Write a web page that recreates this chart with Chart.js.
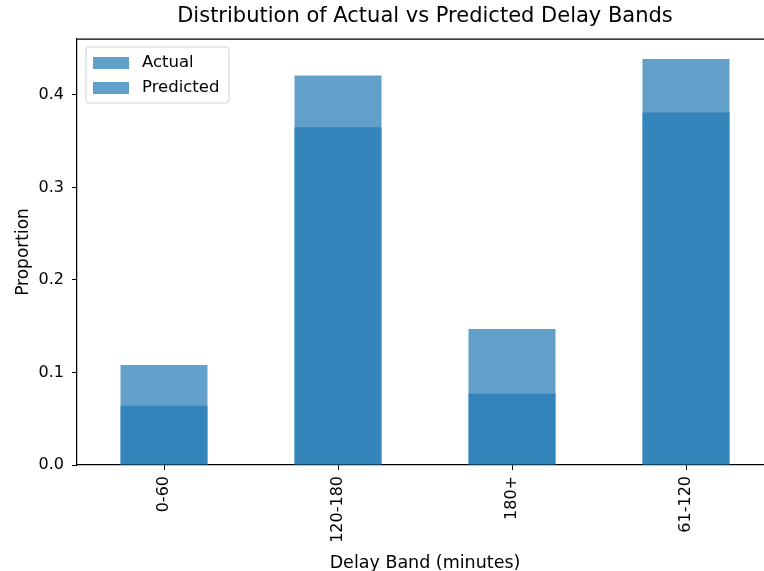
<!DOCTYPE html>
<html>
<head>
<meta charset="utf-8">
<script src="https://cdn.jsdelivr.net/npm/chart.js@4.4.1/dist/chart.umd.min.js"></script>
<style>
  html, body { margin: 0; padding: 0; background: #fff; overflow: hidden; }
  #wrap { width: 780px; height: 571px; }
</style>
</head>
<body>
<div id="wrap"><canvas id="myChart"></canvas></div>
<script>
// delay bands and proportions
const bands = ['0-60', '120-180', '180+', '61-120'];
const actual = [0.108, 0.365, 0.147, 0.381];
const predicted = [0.064, 0.421, 0.077, 0.439];
const yTicks = [0.0, 0.1, 0.2, 0.3, 0.4];

const chartTitle = 'Distribution of Actual vs Predicted Delay Bands';
const barColor = 'rgba(31, 119, 180, 0.7)';
const font = "'DejaVu Sans', sans-serif";

// frame line on top, title centred on the axes and legend box inside the plot
const framePlugin = {
    id: 'frame',
    afterDraw(chart) {
        const c = chart.ctx;
        const a = chart.chartArea;
        c.save();
        c.strokeStyle = '#000';
        c.lineWidth = 1.25;
        c.beginPath();
        c.moveTo(a.left, a.top);
        c.lineTo(a.right, a.top);
        c.lineTo(a.right, a.bottom);
        c.stroke();

        // title
        c.fillStyle = '#000';
        c.font = '21px ' + font;
        c.textAlign = 'center';
        c.textBaseline = 'middle';
        c.fillText(chartTitle, (a.left + a.right) / 2, 17);

        // legend
        const x = a.left + 9, y = a.top + 8, w = 143, h = 56;
        c.fillStyle = 'rgba(255,255,255,0.8)';
        c.strokeStyle = '#d0d0d0';
        c.lineWidth = 1;
        c.beginPath();
        c.roundRect(x, y, w, h, 3);
        c.fill();
        c.stroke();
        c.font = '16.5px ' + font;
        c.textAlign = 'left';
        chart.data.datasets.forEach(function (ds, i) {
            const ry = y + 16 + i * 25;
            c.fillStyle = ds.backgroundColor;
            c.fillRect(x + 7, ry - 6, 36, 12);
            c.fillStyle = '#000';
            c.fillText(ds.label, x + 56, ry);
        });
        c.restore();
    }
};

const ctx = document.getElementById('myChart').getContext('2d');

const myChart = new Chart(ctx, {
    type: 'bar',
    data: {
        labels: bands,
        datasets: [{
            label: 'Actual',
            data: actual,
            backgroundColor: barColor,
            borderWidth: 0
        }, {
            label: 'Predicted',
            data: predicted,
            backgroundColor: barColor,
            borderWidth: 0
        }]
    },
    options: {
        responsive: true,
        maintainAspectRatio: false,
        animation: false,
        layout: { padding: { left: 0, right: 7, top: 39, bottom: -3 } },
        datasets: {
            bar: { grouped: false, categoryPercentage: 1.0, barPercentage: 0.5 }
        },
        scales: {
            x: {
                offset: true,
                grid: { display: true, offset: false, drawOnChartArea: false, drawTicks: true, tickLength: 5, color: '#000', lineWidth: 1 },
                border: { display: true, color: '#000', width: 1.25 },
                ticks: { color: '#000', font: { family: font, size: 16 }, minRotation: 90, maxRotation: 90, padding: 6 },
                title: { display: true, text: 'Delay Band (minutes)', color: '#000', font: { family: font, size: 17.5 }, padding: { top: 0, bottom: 0 } },
                afterFit(s) { s.height = 109; }
            },
            y: {
                min: 0,
                max: 0.4605,
                afterBuildTicks(s) { s.ticks = yTicks.map(v => ({ value: v })); },
                grid: { display: true, drawOnChartArea: false, drawTicks: true, tickLength: 5, color: '#000', lineWidth: 1 },
                border: { display: true, color: '#000', width: 1.25 },
                ticks: { color: '#000', font: { family: font, size: 16 }, padding: 8, callback: v => v.toFixed(1) },
                title: { display: true, text: 'Proportion', color: '#000', font: { family: font, size: 17 }, padding: { top: 13, bottom: 0 } },
                afterFit(s) { s.width = 77; }
            }
        },
        plugins: {
            legend: { display: false },
            tooltip: { enabled: false },
            title: { display: false }
        }
    },
    plugins: [framePlugin]
});
</script>
</body>
</html>
